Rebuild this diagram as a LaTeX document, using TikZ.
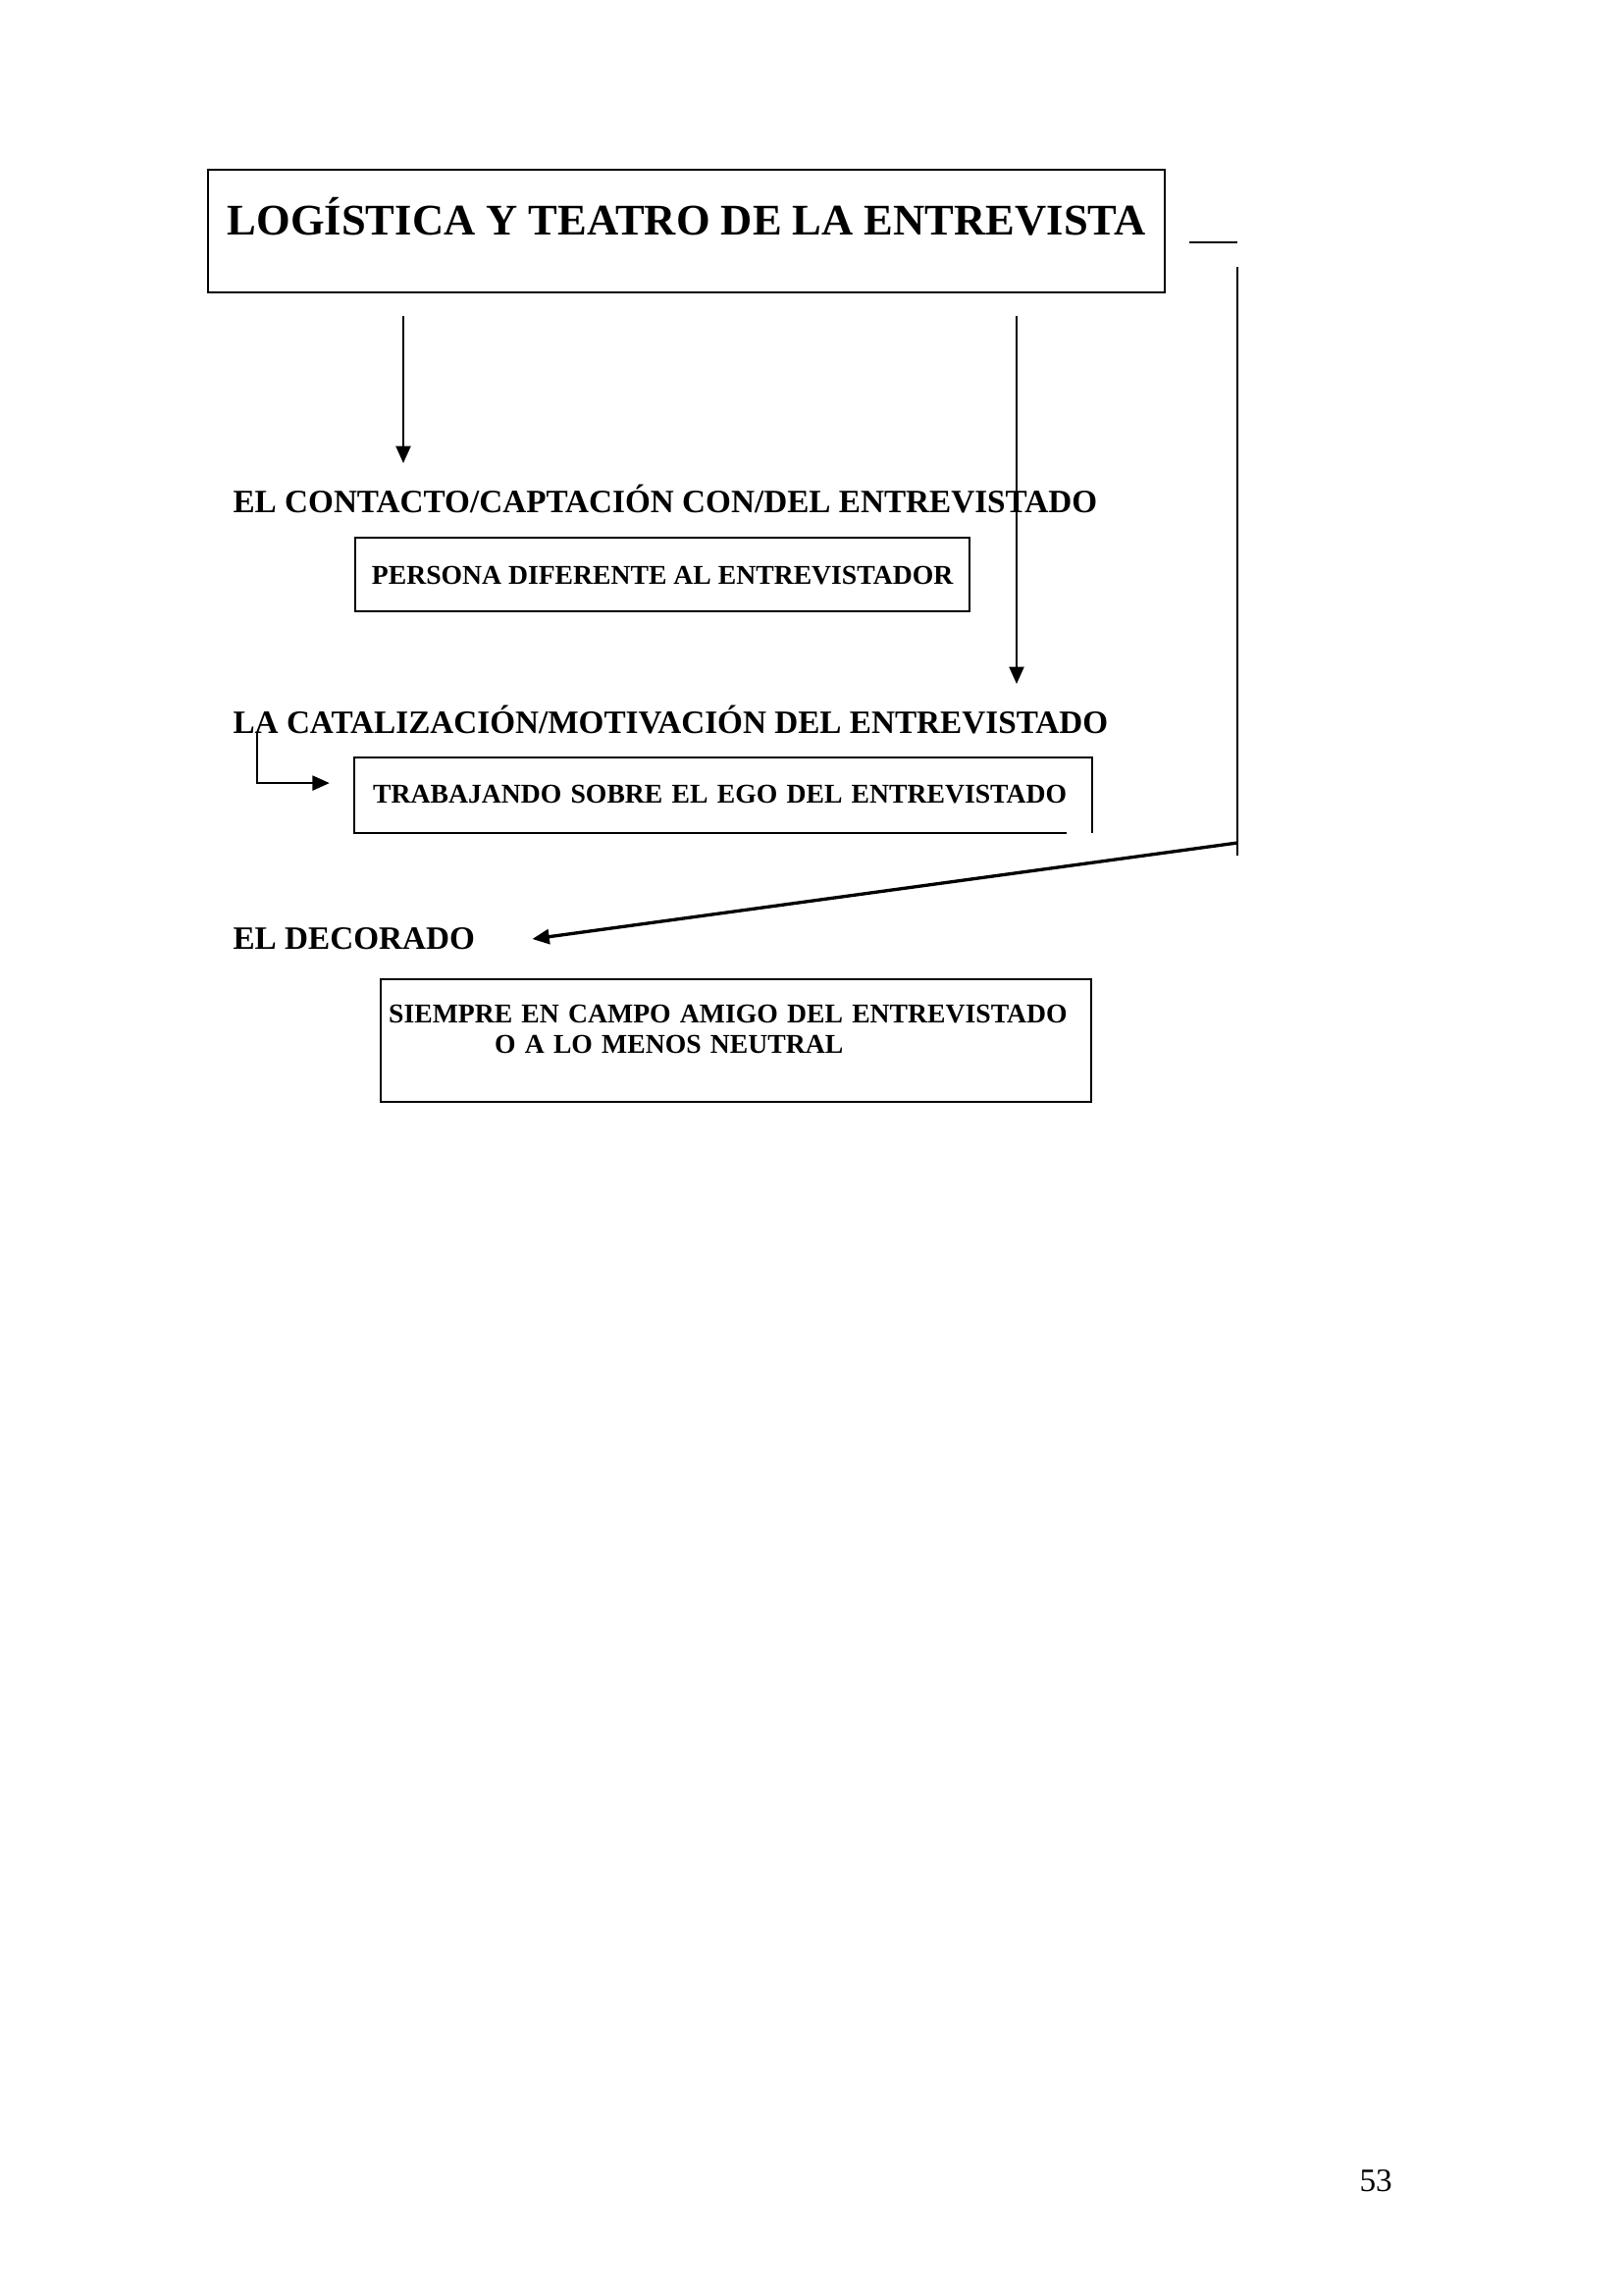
\documentclass[tikz,border=0pt]{standalone}
\usepackage{fontspec}
\setmainfont{Liberation Serif}
\usetikzlibrary{arrows.meta}
\begin{document}
\begin{tikzpicture}[x = 0.12697mm, y = -0.12697mm,
    tema/.style = {anchor = base west, inner sep = 0pt, font = \fontsize{12}{14}\selectfont\bfseries},
    caja/.style = {anchor = north west, inner ysep = 0pt, line width = 0.8pt, font = \fontsize{10}{11.5}\selectfont\bfseries},
    linea/.style = {line width = 0.8pt},
    flecha/.style = {-{Triangle[length = 2.2mm, width = 1.9mm]}, line width = 0.8pt}]
            \useasboundingbox (0,0) rectangle (1654,2339);
            \node[draw, line width = 0.8pt, anchor = north west, inner sep = 0pt, minimum width = 123.8mm, text height = 8.38mm, text depth = 7.49mm, font = \fontsize{16.1}{19}\selectfont\bfseries] (logistica) at (211,172) {LOGÍSTICA Y TEATRO DE LA ENTREVISTA};
            \node[tema] (contacto) at (237,522) {EL CONTACTO/CAPTACIÓN CON/DEL ENTREVISTADO};
            \node[caja, draw, minimum width = 79.48mm, text height = 5.97mm, text depth = 3.56mm] (persona) at (361,547) {PERSONA DIFERENTE AL ENTREVISTADOR};
            \node[tema] (catalizacion) at (237,747) {LA CATALIZACIÓN/MOTIVACIÓN DEL ENTREVISTADO};
            \node[caja, minimum width = 95.23mm, text width = 90.65mm, inner xsep = 2.29mm, align = left, text height = 5.71mm, text depth = 3.81mm] (ego) at (361,772) {\mbox{TRABAJANDO SOBRE EL EGO DEL ENTREVISTADO}};
            \draw[linea] ([xshift = -3.3mm]ego.south east) -- (ego.south west) -- (ego.north west) -- (ego.north east) -- (ego.south east);
            \node[tema] (decorado) at (237,967) {EL DECORADO};
            \node[caja, draw, minimum width = 91.93mm, text width = 89.9mm, inner xsep = 1.02mm, align = left, text height = 5.59mm, text depth = 10.28mm] (campo) at (387,997) {\mbox{SIEMPRE EN CAMPO AMIGO DEL ENTREVISTADO}\\\hspace*{13.7mm}\mbox{O A LO MENOS NEUTRAL}};
            \node[anchor = base west, inner sep = 0pt, font = \fontsize{12}{14}\selectfont] (pagina) at (1385,2233) {53};
            \coordinate (izq) at (411,322);
            \coordinate (centro) at (1036,322);
            \coordinate (gancho) at (1212,247);
            \coordinate (lado) at (1261,272);
            \draw[flecha] (izq) -- ++(0,150);
            \draw[flecha] (centro) -- ++(0,375);
            \draw[linea] (gancho) -- ++(49,0);
            \draw[linea] (lado) -- ++(0,600) coordinate (ladofin);
            \draw[flecha, line width = 1.2pt]
              ([yshift = 1.65mm]ladofin)
                --
              ([xshift = 7.36mm, yshift = 1.27mm]decorado.base east);
            \draw[flecha]
              ([xshift = 3.2mm]catalizacion.base west)
                |-
              ([xshift = -3.2mm, yshift = 1.59mm]ego.west);
        \end{tikzpicture}
\end{document}
